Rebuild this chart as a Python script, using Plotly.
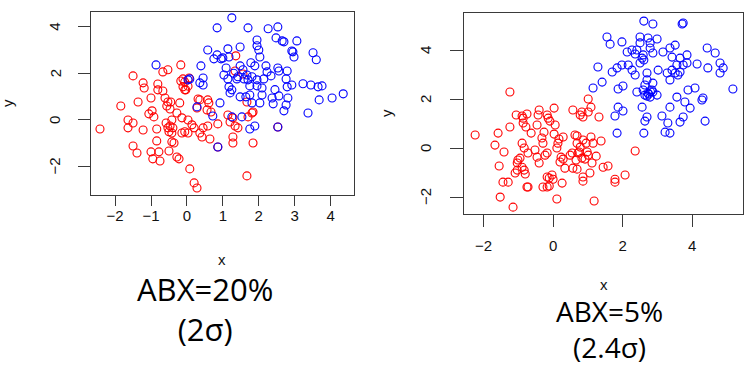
import plotly.graph_objects as go

# ---------------- data ----------------
# Left panel: ABX=20%
left_red_x = [-2.42, -1.84, -1.50, -1.64, -1.64, -1.50, -1.36, -1.22, -1.19, -1.22, -1.50, -1.39,
              -1.00, -0.97, -1.06, -0.92, -1.00, -0.95, -0.84, -0.84, -0.81, -0.81, -0.78, -0.75,
              -0.67, -0.61, -0.67, -0.53, -0.53, -0.45, -0.56, -0.47, -0.58, -0.53, -0.47, -0.42,
              -0.39, -0.50, -0.42, -0.42, -0.36, -0.50, -0.28, -0.22, -0.17, -0.17, -0.11, -0.06,
              -0.11, -0.20, -0.14, -0.28, -0.14, -0.06, 0.03, 0.03, 0.14, 0.20, 0.06, 0.08,
              0.20, 0.28, 0.31, 1.36, 1.34, 1.56, 0.36, 0.58, 0.61, 0.28, 0.56, 0.67,
              1.67, 1.81, 1.70, 1.84, 1.14, 1.20, 1.28, 0.45, 0.58, 0.86, 0.36, 0.42,
              0.64, 1.34, 1.42, 1.28, 1.28, 1.84, 1.67, 2.53, 0.86, 0.03, -0.06, -0.03]
left_red_y = [-0.39, 0.60, 1.89, 0.00, -0.34, -0.13, 0.77, 1.59, 1.37, -0.43, -1.12, -1.42,
              0.94, 0.39, 0.26, 0.13, -1.37, -1.67, -0.39, -0.90, 1.54, 1.29, -1.37, -1.76,
              1.24, 0.94, 2.06, 2.15, 0.77, 0.77, 0.60, 0.47, -0.13, -0.34, -0.26, 0.00,
              -0.34, -0.51, -0.56, -0.94, -0.99, -1.33, -1.59, -1.67, 2.36, 1.67, 1.42, 1.29,
              1.76, 0.73, 0.09, 0.30, -0.56, -0.51, -0.56, 0.00, -0.21, -0.34, 1.80, -2.10,
              -2.70, -2.92, 0.90, 2.75, 2.10, 1.97, 0.86, 0.86, 0.73, 0.51, 0.43, 0.34,
              0.77, 0.30, 0.13, 0.34, 0.21, -0.09, 0.09, -0.34, -0.26, -0.17, -0.56, -0.73,
              -0.82, -0.26, -0.34, -0.73, -0.99, -0.99, -2.40, -0.30, -1.16, 1.45, 1.63, 1.29]

left_blue_x = [-0.86, 0.03, 0.28, 1.25, 0.84, 1.70, 2.26, 2.53, 0.58, 1.14, 1.48, 0.84,
               0.75, 0.95, 1.00, 1.17, 0.39, 1.95, 1.95, 2.00, 2.03, 2.48, 2.65, 2.70,
               3.06, 2.92, 2.95, 2.98, 3.51, 3.60, 1.09, 1.03, 1.48, 1.56, 1.67, 1.78,
               1.89, 2.20, 2.23, 2.53, 2.56, 2.79, 2.34, 0.45, 0.36, 0.45, 0.08, 1.14,
               1.39, 1.42, 1.59, 1.70, 1.81, 1.95, 2.14, 1.17, 1.25, 1.20, 1.75, 1.95,
               2.09, 2.76, 2.79, 2.92, 3.23, 3.45, 3.65, 3.76, 4.35, 4.04, 3.68, 3.37,
               1.48, 1.64, 1.75, 1.81, 2.03, 2.09, 2.37, 2.40, 2.56, 2.81, 2.76, 2.70,
               0.92, 0.72, 1.25, 1.53, 1.89, 1.75, 2.53, 0.86, 1.30, 2.45]
left_blue_y = [2.36, 1.72, 0.56, 4.38, 3.95, 3.95, 3.91, 3.99, 3.00, 3.05, 3.13, 2.79,
               2.62, 2.62, 2.66, 2.70, 2.32, 3.43, 3.18, 3.00, 2.70, 3.52, 3.39, 3.35,
               3.39, 2.96, 2.92, 2.70, 2.88, 2.58, 2.23, 1.93, 2.32, 2.15, 1.93, 2.45,
               2.32, 2.32, 2.06, 2.23, 2.10, 2.10, 1.89, 1.80, 1.59, 1.50, 1.76, 1.76,
               1.76, 1.85, 1.76, 1.72, 1.85, 1.72, 1.76, 1.42, 1.29, 1.16, 1.46, 1.46,
               1.37, 1.76, 1.42, 1.50, 1.55, 1.50, 1.42, 1.46, 1.12, 0.94, 0.86, 0.30,
               0.99, 0.99, 1.07, 0.73, 0.73, 1.07, 0.94, 0.69, 1.03, 0.94, 0.64, 0.39,
               0.73, 0.17, 0.13, 0.13, -0.26, -0.39, -0.30, -1.16, 2.00, 1.30]

# Right panel: ABX=5%
right_red_x = [-1.24, -1.06, -0.89, -0.86, -0.75, -0.86, -0.78, -0.40, -0.17, -0.14, -0.09, 0.03,
               0.57, 0.78, -2.24, -1.58, -1.67, -1.41, -1.55, -1.44, -1.29, -1.52, -1.15, -1.24,
               -0.63, -0.89, -0.83, -0.72, -1.01, -1.03, -0.95, -0.89, -0.83, -1.03, -1.09, -0.80,
               -0.75, -0.72, -0.46, -0.43, 0.06, -0.26, -0.32, -0.29, -0.46, -0.40, -0.23, -0.17,
               -0.52, 0.03, 0.17, 0.29, 0.14, 0.11, 0.23, 0.29, 0.20, 0.34, 0.49, 0.63,
               0.69, 0.72, 0.66, 0.57, 0.69, -0.17, -0.11, 0.00, -0.03, 0.26, -0.29, -0.17,
               -0.11, 0.11, 1.01, 1.09, 0.83, 0.86, 1.32, 1.01, 0.69, 0.86, 1.09, 1.15,
               1.38, 0.95, 0.78, 0.75, 0.98, 1.01, 1.24, 0.83, 0.92, 1.12, 0.55, 1.06,
               0.86, 0.86, 1.44, 1.58, 2.07, 1.78, 1.78, 2.36, 1.18]
right_red_y = [2.29, 1.35, 1.31, 1.22, 1.39, 1.02, 0.86, 1.55, 1.35, 1.22, 1.10, 1.63,
               1.55, 1.35, 0.53, 0.61, 0.12, -0.16, -0.73, -1.39, -1.39, -2.00, -2.41, 0.86,
               0.61, 0.20, 0.00, -0.20, -0.49, -0.61, -0.41, -0.78, -0.90, -0.90, -1.02, -1.06,
               -1.59, -1.59, 0.94, 1.35, 0.94, 0.65, 0.41, 0.20, -0.37, -0.61, -0.29, -0.20,
               -0.08, 0.57, 0.37, 0.45, 0.20, 0.00, -0.37, -0.45, -0.57, -0.82, -0.29, 0.53,
               0.20, -0.20, -0.49, -0.82, -0.86, -1.18, -1.22, -1.27, -1.10, -1.43, -1.59, -1.59,
               -1.55, -2.08, 2.00, 1.67, 1.47, 1.27, 1.27, 1.47, 0.49, 0.33, 0.45, 0.20,
               0.29, 0.20, 0.04, -0.16, -0.16, -0.29, -0.33, -0.41, -0.45, -0.61, -0.20, -1.02,
               -1.18, -1.35, -0.78, -0.73, -1.10, -1.27, -1.39, -0.12, -2.16]

right_blue_x = [2.61, 2.87, 3.71, 3.74, 1.55, 1.64, 1.98, 2.50, 2.73, 2.99, 2.50, 2.79,
                2.79, 2.13, 2.27, 2.41, 2.36, 2.59, 2.56, 2.61, 2.87, 3.16, 3.36, 3.51,
                3.42, 3.65, 3.85, 4.43, 4.66, 1.29, 1.70, 1.84, 1.98, 2.16, 2.27, 2.36,
                2.50, 2.70, 2.70, 2.64, 2.87, 3.02, 3.28, 3.42, 3.51, 3.65, 3.56, 3.74,
                3.85, 4.14, 3.36, 3.59, 4.45, 4.80, 4.89, 4.80, 1.41, 1.15, 1.87, 2.01,
                2.41, 2.59, 2.73, 2.84, 2.79, 2.64, 2.99, 2.87, 2.75, 2.80, 2.70, 3.56,
                3.79, 3.88, 4.08, 3.94, 4.28, 4.31, 5.17, 2.56, 1.87, 2.01, 1.78, 3.36,
                3.13, 2.70, 2.64, 3.74, 3.65, 4.37, 3.30, 1.84, 2.61, 3.22, 3.36]
right_blue_y = [5.18, 5.06, 5.06, 5.10, 4.53, 4.24, 4.33, 4.53, 4.49, 4.45, 4.29, 4.29,
                4.08, 3.92, 4.00, 4.00, 3.84, 3.80, 3.67, 3.59, 3.88, 3.92, 4.08, 4.20,
                3.71, 3.67, 3.80, 4.08, 3.88, 3.31, 3.10, 3.27, 3.39, 3.39, 3.18, 2.98,
                3.47, 3.06, 2.78, 2.57, 2.65, 3.18, 3.06, 3.18, 3.06, 3.10, 3.39, 3.39,
                3.47, 3.43, 2.78, 2.98, 3.27, 3.47, 3.27, 3.06, 2.69, 2.45, 2.41, 2.53,
                2.29, 2.37, 2.24, 2.37, 2.08, 2.16, 2.16, 2.29, 2.20, 2.30, 2.12, 2.08,
                1.88, 2.37, 2.45, 1.63, 1.96, 2.04, 2.41, 1.67, 1.67, 1.51, 1.31, 1.67,
                1.31, 1.27, 1.10, 1.27, 1.06, 1.10, 1.02, 0.61, 0.61, 0.65, 0.61]

left_xticks = [-2, -1, 0, 1, 2, 3, 4]
left_yticks = [-2, 0, 2, 4]
right_xticks = [-2, 0, 2, 4]
right_yticks = [-2, 0, 2, 4]

left_caption = ["ABX=20%", "(2σ)"]
right_caption = ["ABX=5%", "(2.4σ)"]

# ---------------- figure ----------------
W, H = 755, 366
RED, BLUE = "#ff0000", "#0000ff"

def px_x(p):
    return p / W

def px_y(p):
    return 1 - p / H

fig = go.Figure()
marker_common = dict(symbol="circle-open", size=8, line=dict(width=1.1))
fig.add_trace(go.Scatter(x=left_red_x, y=left_red_y, mode="markers",
                         marker=dict(color=RED, **marker_common), xaxis="x", yaxis="y"))
fig.add_trace(go.Scatter(x=left_blue_x, y=left_blue_y, mode="markers",
                         marker=dict(color=BLUE, **marker_common), xaxis="x", yaxis="y"))
fig.add_trace(go.Scatter(x=right_red_x, y=right_red_y, mode="markers",
                         marker=dict(color=RED, **marker_common), xaxis="x2", yaxis="y2"))
fig.add_trace(go.Scatter(x=right_blue_x, y=right_blue_y, mode="markers",
                         marker=dict(color=BLUE, **marker_common), xaxis="x2", yaxis="y2"))

tick_font = dict(family="Liberation Sans, Arial, sans-serif", size=15, color="#111")
axis_common = dict(showgrid=False, zeroline=False, showline=True, mirror=True,
                   linecolor="#3a3a3a", linewidth=1.2, ticks="outside",
                   tickcolor="#3a3a3a", tickwidth=1.2, automargin=False,
                   tickfont=tick_font)

fig.update_layout(
    width=W, height=H, margin=dict(l=0, r=0, t=0, b=0),
    paper_bgcolor="white", plot_bgcolor="white", showlegend=False,
    xaxis=dict(domain=[px_x(91), px_x(354)], range=[-2.67, 4.65], tickvals=left_xticks,
               anchor="y", ticklen=10, ticklabelstandoff=-3, **axis_common),
    yaxis=dict(domain=[px_y(195), px_y(12)], range=[-3.22, 4.63], tickvals=left_yticks,
               anchor="x", ticklen=12, showticklabels=False, **axis_common),
    xaxis2=dict(domain=[px_x(464), px_x(743)], range=[-2.56, 5.46], tickvals=right_xticks,
                anchor="y2", ticklen=12, ticklabelstandoff=6, **axis_common),
    yaxis2=dict(domain=[px_y(214), px_y(13)], range=[-2.69, 5.51], tickvals=right_yticks,
                anchor="x2", ticklen=13, showticklabels=False, **axis_common),
)

# rotated y tick labels (R style), placed on the axes' own scales
for v in left_yticks:
    fig.add_annotation(xref="paper", yref="y", x=px_x(55), y=v, text=str(v).replace("-", "\u2212"),
                       textangle=-90, showarrow=False, xanchor="center", yanchor="middle",
                       font=tick_font)
for v in right_yticks:
    fig.add_annotation(xref="paper", yref="y2", x=px_x(425), y=v, text=str(v).replace("-", "\u2212"),
                       textangle=-90, showarrow=False, xanchor="center", yanchor="middle",
                       font=tick_font)

small = dict(family="Liberation Sans, Arial, sans-serif", size=15, color="#111")
ann = [
    dict(text="x", x=px_x(222), y=px_y(259), font=small),
    dict(text="y", x=px_x(8), y=px_y(103), font=small, textangle=-90),
    dict(text="x", x=px_x(604), y=px_y(284), font=small),
    dict(text="y", x=px_x(386), y=px_y(113), font=small, textangle=-90),
    dict(text="<br>".join(left_caption), x=px_x(205), y=px_y(309),
         font=dict(family="Open Sans, sans-serif", size=31, color="#000")),
    dict(text="<br>".join(right_caption), x=px_x(609), y=px_y(329),
         font=dict(family="Open Sans, sans-serif", size=28, color="#000")),
]
for a in ann:
    fig.add_annotation(xref="paper", yref="paper", xanchor="center", yanchor="middle",
                       showarrow=False, **a)

fig.write_html("out.html", config={"displayModeBar": False},
               post_script="document.body.style.margin='0';")
